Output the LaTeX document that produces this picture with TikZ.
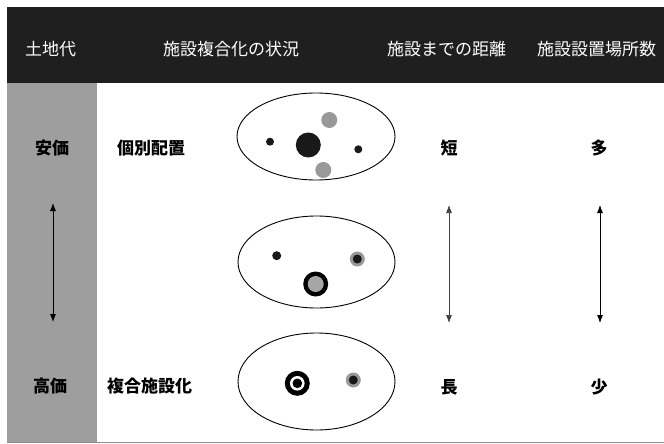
\documentclass[tikz,border=0pt]{standalone}
\usepackage{fontspec}
\setmainfont{Noto Sans CJK JP}
\usetikzlibrary{arrows.meta}
\tikzset{
  hdr/.style={text=white, font=\fontsize{17pt}{18pt}\selectfont, anchor=west, inner sep=0pt},
  lbl/.style={text=black, font=\fontsize{17pt}{18pt}\selectfont\bfseries, anchor=west, inner sep=0pt},
  clbl/.style={text=black, font=\fontsize{17pt}{18pt}\selectfont\bfseries, anchor=center, inner sep=0pt},
  darr/.style={{Latex[length=8pt,width=6pt]}-{Latex[length=8pt,width=6pt]}, line width=0.8pt},
  garr/.style={{Latex[length=8pt,width=6pt]}-{Latex[length=8pt,width=6pt]}, line width=0.7pt, draw=black!75, fill=black!75},
  oval/.style={line width=0.9pt},
  dotgray/.style={fill=black!40},
  dotdark/.style={fill=black!90}
}
\begin{document}
\begin{tikzpicture}[x=1pt,y=-1pt]
\useasboundingbox (0,0) rectangle (664,444);
% header band and side column
\fill[black!88] (7,7) rectangle (664,83);
\fill[black!38] (7,83) rectangle (97,442);
\draw[black!45, line width=0.6pt] (7,442) -- (664,442);
% header texts
\node[hdr] (h1) at (25,49.5) {土地代};
\node[hdr] (h2) at (163,49.5) {施設複合化の状況};
\node[hdr] (h3) at (387,49.5) {施設までの距離};
\node[hdr] (h4) at (537,49.5) {施設設置場所数};
% row labels
\node[lbl] (cheap) at (35,148) {安価};
\node[lbl] (sep) at (117,148) {個別配置};
\node[clbl] (short) at (449,148) {短};
\node[clbl] (many) at (599,148) {多};
\node[lbl] (dear) at (33,386) {高価};
\node[lbl] (comp) at (107,386) {複合施設化};
\node[clbl] (long) at (449,387) {長};
\node[clbl] (few) at (599,387) {少};
% arrows
\coordinate (la) at (53,203);
\coordinate (lb) at (53,322);
\coordinate (ma) at (449,205);
\coordinate (mb) at (449,323);
\coordinate (ra) at (600,205);
\coordinate (rb) at (600,323);
\draw[darr] (la) -- (lb);
\draw[garr] (ma) -- (mb);
\draw[darr] (ra) -- (rb);
% ellipses
\draw[oval] (316,136.5) ellipse [x radius=79pt, y radius=43.5pt];
\draw[oval] (316.5,262) ellipse [x radius=78.5pt, y radius=46pt];
\draw[oval] (316.5,381.5) ellipse [x radius=78.5pt, y radius=48.5pt];
% ellipse 1 dots
\fill[dotdark] (270,141.7) circle [radius=4pt];
\fill[dotdark] (308.3,145) circle [radius=12.5pt];
\fill[dotgray] (329.3,120) circle [radius=8pt];
\fill[dotgray] (323.3,170) circle [radius=8pt];
\fill[dotdark] (358.3,149.3) circle [radius=4pt];
% ellipse 2 dots
\fill[dotdark] (276.7,255.7) circle [radius=4.5pt];
\fill[dotgray] (357.3,259) circle [radius=7.5pt];
\fill[dotdark] (357.3,259) circle [radius=4.5pt];
\fill[black] (315.7,284) circle [radius=12.5pt];
\fill[black!35] (315.7,284) circle [radius=8pt];
% ellipse 3 dots
\fill[black] (297.3,383.3) circle [radius=12.5pt];
\fill[white] (297.3,383.3) circle [radius=7.3pt];
\fill[black] (297.3,383.3) circle [radius=4.8pt];
\fill[dotgray] (353.3,380) circle [radius=7.5pt];
\fill[dotdark] (353.3,380) circle [radius=4.5pt];
\end{tikzpicture}
\end{document}
